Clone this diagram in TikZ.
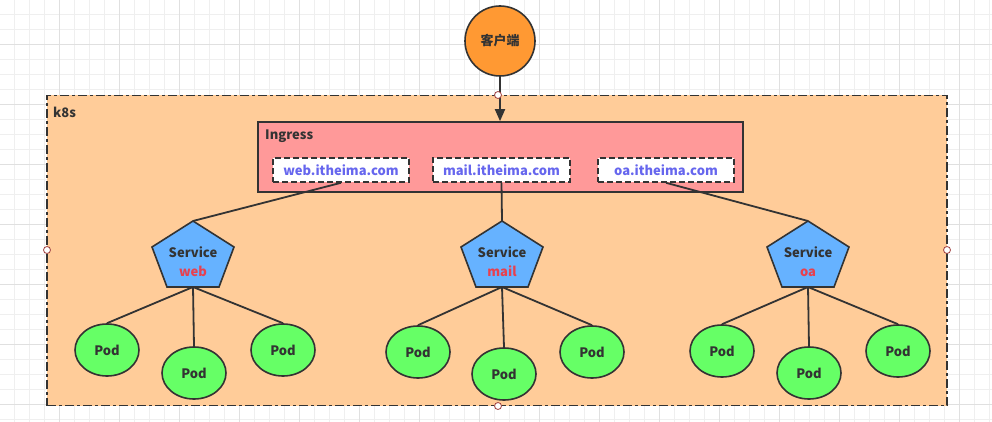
\documentclass[tikz,border=0pt]{standalone}
\usepackage{fontspec}
\setmainfont{Noto Sans CJK SC}
\usetikzlibrary{shapes.geometric,arrows.meta}
\definecolor{gridminor}{HTML}{EFEFEF}
\definecolor{gridmajor}{HTML}{E0E0E0}
\definecolor{ink}{HTML}{333333}
\definecolor{clientfill}{HTML}{FF9933}
\definecolor{k8sfill}{HTML}{FFCC99}
\definecolor{ingfill}{HTML}{FF9999}
\definecolor{svcfill}{HTML}{66B2FF}
\definecolor{podfill}{HTML}{66FF66}
\definecolor{hosttext}{HTML}{6666EE}
\definecolor{svcname}{HTML}{E8404E}
\definecolor{handle}{HTML}{A04040}
\tikzset{
  txt/.style={font=\fontsize{13}{15}\selectfont\bfseries, text=ink, inner sep=0pt},
  hostbox/.style={draw=ink, fill=white, line width=1.6pt, dash pattern=on 6pt off 3pt,
    minimum height=24pt, inner sep=0pt, font=\fontsize{13}{15}\selectfont\bfseries, text=hosttext},
  pod/.style={ellipse, draw=ink, fill=podfill, line width=1.6pt, minimum width=64pt,
    minimum height=52pt, inner sep=0pt, font=\fontsize{13}{15}\selectfont\bfseries, text=ink},
  svc/.style={draw=ink, fill=svcfill, line width=1.6pt, line join=miter},
  conn/.style={draw=ink, line width=1.8pt},
  handlept/.style={circle, draw=handle, fill=white, line width=0.8pt, minimum size=7pt, inner sep=0pt},
}
\newcommand{\svcshape}[2]{%
  \path[svc] (#1,221) -- (#1+41,247) -- (#1+26,287) -- (#1-26,287) -- (#1-41,247) -- cycle;
  \coordinate (#2top) at (#1,221);
  \coordinate (#2bot) at (#1,287);}
\begin{document}
\begin{tikzpicture}[x=1pt,y=-1pt]
\useasboundingbox (0,0) rectangle (992,422);
\fill[white] (0,0) rectangle (992,422);
% grid
\foreach \gx in {-0.7,14.3,...,992} {\draw[gridminor, line width=0.8pt] (\gx,0) -- (\gx,422);}
\foreach \gy in {-0.7,14.3,...,422} {\draw[gridminor, line width=0.8pt] (0,\gy) -- (992,\gy);}
\foreach \gx in {-0.7,59.3,...,992} {\draw[gridmajor, line width=0.8pt] (\gx,0) -- (\gx,422);}
\foreach \gy in {44.3,104.3,...,422} {\draw[gridmajor, line width=0.8pt] (0,\gy) -- (992,\gy);}
% k8s cluster
\node[draw=ink, fill=k8sfill, line width=1.6pt, dash pattern=on 9pt off 3pt on 3pt off 3pt,
  minimum width=900pt, minimum height=310pt, inner sep=0pt] (k8s) at (497,250.5) {};
\node[txt, anchor=north west] (k8slabel) at (53,107) {k8s};
% client
\node[circle, draw=ink, fill=clientfill, line width=1.6pt, minimum size=70pt, inner sep=0pt,
  font=\fontsize{13}{15}\selectfont\bfseries, text=ink] (client) at (500,41) {客户端};
% ingress
\node[draw=ink, fill=ingfill, line width=1.6pt, minimum width=485pt, minimum height=70pt,
  inner sep=0pt] (ingress) at (500.5,157) {};
\node[txt, anchor=north west] (inglabel) at (265,130) {Ingress};
\node[hostbox, minimum width=136pt] (hweb) at (341,170) {web.itheima.com};
\node[hostbox, minimum width=137pt] (hmail) at (501.5,170) {mail.itheima.com};
\node[hostbox, minimum width=136pt] (hoa) at (666,170) {oa.itheima.com};
\draw[conn, -{Triangle[length=12pt,width=10pt]}] (client.south) -- (client.south |- ingress.north);
% services
\svcshape{193}{sweb}
\svcshape{502}{smail}
\svcshape{808}{soa}
\node[txt, align=center] (lweb) at (193,262) {Service\\[4pt]\textcolor{svcname}{web}};
\node[txt, align=center] (lmail) at (502,262) {Service\\[4pt]\textcolor{svcname}{mail}};
\node[txt, align=center] (loa) at (808,262) {Service\\[4pt]\textcolor{svcname}{oa}};
\draw[conn] (hweb.south) -- (swebtop);
\draw[conn] (hmail.south) -- (smailtop);
\draw[conn] (hoa.south) -- (soatop);
% pods
\node[pod] (pw1) at (107,350) {Pod};
\node[pod] (pw2) at (194,373) {Pod};
\node[pod] (pw3) at (283,350) {Pod};
\node[pod] (pm1) at (418,352) {Pod};
\node[pod] (pm2) at (504,374) {Pod};
\node[pod] (pm3) at (592,352) {Pod};
\node[pod] (po1) at (722,351) {Pod};
\node[pod] (po2) at (809,373) {Pod};
\node[pod] (po3) at (898,351) {Pod};
\foreach \p in {pw1,pw2,pw3} {\draw[conn] (swebbot) -- (\p.north);}
\foreach \p in {pm1,pm2,pm3} {\draw[conn] (smailbot) -- (\p.north);}
\foreach \p in {po1,po2,po3} {\draw[conn] (soabot) -- (\p.north);}
% selection handles
\node[handlept] (h1) at (498,95) {};
\node[handlept] (h2) at (47,250) {};
\node[handlept] (h3) at (947,250) {};
\node[handlept] (h4) at (498,406) {};
\end{tikzpicture}
\end{document}
